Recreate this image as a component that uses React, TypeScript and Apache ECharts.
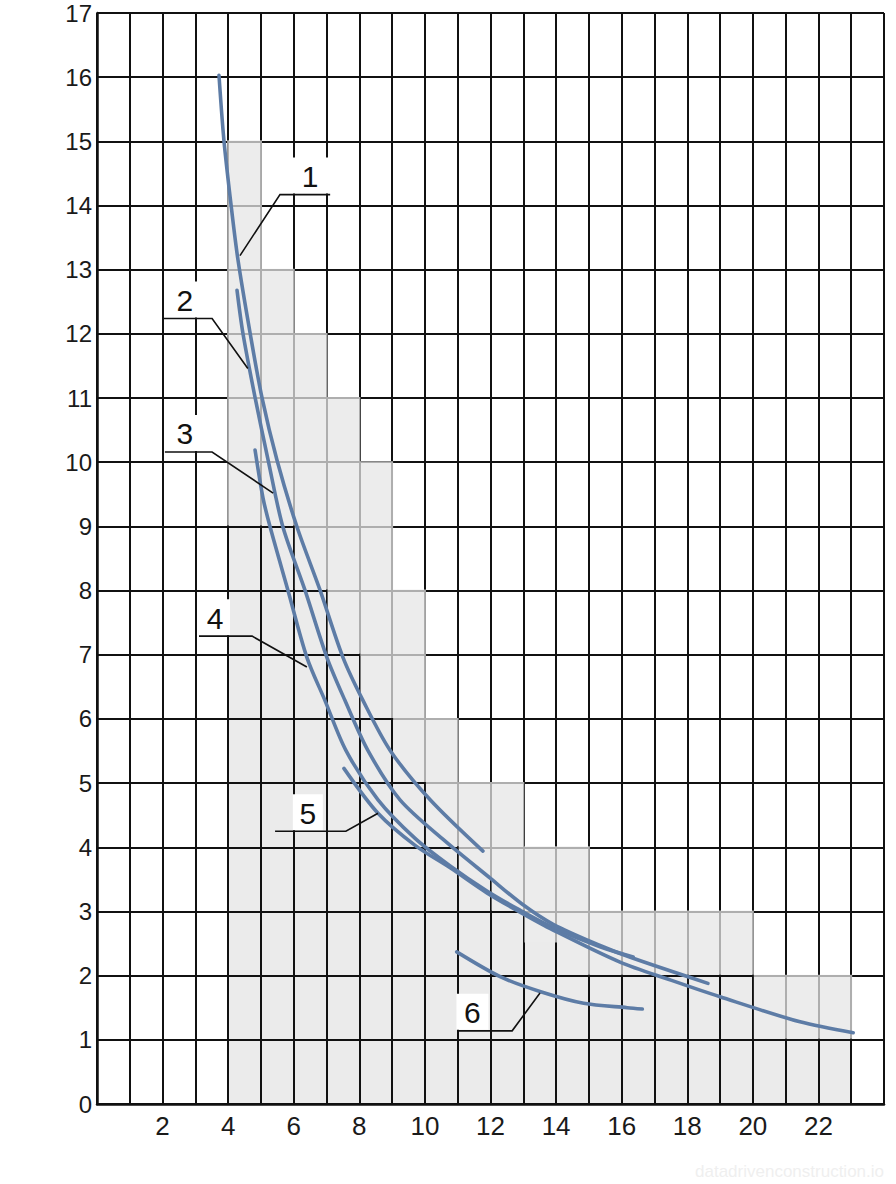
import React, { useEffect, useRef } from "react";
import * as echarts from "echarts";

// ---- data ----
const xTickLabels = [2, 4, 6, 8, 10, 12, 14, 16, 18, 20, 22];
const stepStarts = [4, 5, 6, 7, 8, 9, 10, 11, 12, 13, 14, 15, 16, 17, 18, 19, 20, 21, 22];
const stepHeights = [15, 13, 12, 11, 10, 8, 6, 5, 5, 4, 4, 3, 3, 3, 3, 3, 2, 2, 2];
const paleFloor = [9, 9, 8, 7, 6, 5, 4, 3.5, 3, 2.5, 2, 2, 2, 2, 2, 2, 1, 1, 1];

const curve1 = [
  [3.72, 16.03], [3.87, 15.02], [4.09, 14.0], [4.3, 13.15], [4.67, 12.01], [5.03, 11.01],
  [5.49, 10.03], [6.1, 8.99], [6.8, 8.01], [7.5, 6.96], [8.11, 6.29], [8.94, 5.51],
  [10.16, 4.74], [11.77, 3.94],
];
const curve2 = [
  [4.27, 12.68], [4.45, 12.01], [4.82, 11.01], [5.22, 10.03], [5.67, 8.99], [6.34, 8.01],
  [7.01, 6.96], [7.56, 6.29], [8.26, 5.51], [9.24, 4.74], [10.61, 4.1], [11.99, 3.52],
  [12.95, 3.12], [13.91, 2.8], [15.34, 2.47], [16.35, 2.27], [18.63, 1.88],
];
const curve3 = [
  [4.82, 10.19], [5.06, 9.45], [5.28, 8.99], [5.82, 8.01], [6.4, 6.96], [6.95, 6.29],
  [7.59, 5.51], [8.57, 4.74], [9.7, 4.14], [10.77, 3.71], [11.89, 3.32], [12.9, 3.02],
  [13.91, 2.75], [15.34, 2.45], [16.35, 2.29],
];
const curve5 = [
  [7.53, 5.23], [8.57, 4.53], [9.7, 4.03], [10.77, 3.68], [11.89, 3.29], [12.9, 2.99],
  [13.91, 2.71], [15.95, 2.21], [17.5, 1.93], [19.0, 1.67], [21.44, 1.28], [23.06, 1.11],
];
const curve6 = [
  [10.97, 2.37], [12.31, 1.98], [13.53, 1.75], [14.84, 1.57], [16.17, 1.5], [16.63, 1.48],
];

const curveNames = ["1", "2", "3", "5", "6"];
const curves = [curve1, curve2, curve3, curve5, curve6];

// callout annotations (text x and leader line, in data units)
const callouts = [
  { text: "1", tx: 6.5, boxW: 46, line: [[7.11, 14.17], [5.58, 14.17], [4.36, 13.22]] },
  { text: "2", tx: 2.68, boxW: 34, line: [[2.01, 12.24], [3.51, 12.24], [4.6, 11.46]] },
  { text: "3", tx: 2.68, boxW: 34, line: [[2.07, 10.16], [3.51, 10.16], [5.37, 9.52]] },
  { text: "4", tx: 3.6, boxW: 30, line: [[3.11, 7.29], [4.73, 7.29], [6.4, 6.81]] },
  { text: "5", tx: 6.43, boxW: 30, line: [[5.43, 4.25], [7.59, 4.25], [8.57, 4.53]] },
  { text: "6", tx: 11.45, boxW: 32, line: [[10.98, 1.14], [12.66, 1.14], [13.51, 1.73]] },
];

const FONT = '"Liberation Sans", Arial, Helvetica, sans-serif';
const CURVE_COLOR = "#5d7ca6";

export default function App() {
  const ref = useRef<HTMLDivElement>(null);

  useEffect(() => {
    if (!ref.current) return;
    const chart = echarts.init(ref.current, undefined, { renderer: "svg" });

    const baseData = stepStarts.map((x, i) => [x, stepHeights[i]]);

    const option: any = {
      animation: false,
      backgroundColor: "#ffffff",
      grid: { left: 97, right: 12, top: 13, bottom: 80, containLabel: false },
      xAxis: {
        type: "value",
        min: 0,
        max: 24,
        interval: 1,
        axisLine: { show: true, onZero: false, lineStyle: { color: "#111", width: 2.5 } },
        axisTick: { show: false },
        splitLine: { show: true, lineStyle: { color: "#111", width: 2 } },
        axisLabel: {
          margin: 9,
          color: "#1a1a1a",
          fontSize: 26,
          fontFamily: FONT,
          formatter: (v: number) => (xTickLabels.includes(v) ? String(v) : ""),
        },
      },
      yAxis: {
        type: "value",
        min: 0,
        max: 17,
        interval: 1,
        axisLine: { show: true, onZero: false, lineStyle: { color: "#111", width: 2.5 } },
        axisTick: { show: false },
        splitLine: { show: true, lineStyle: { color: "#111", width: 2 } },
        axisLabel: {
          margin: 5,
          color: "#1a1a1a",
          fontSize: 24,
          lineHeight: 24,
          fontFamily: FONT,
        },
      },
      series: [
        {
          type: "custom",
          name: "steps",
          z: -1,
          silent: true,
          data: baseData,
          renderItem: (params: any, api: any) => {
            const x = api.value(0);
            const h = api.value(1);
            const p0 = api.coord([x, h]);
            const p1 = api.coord([x + 1, 0]);
            return {
              type: "rect",
              shape: { x: p0[0], y: p0[1], width: p1[0] - p0[0], height: p1[1] - p0[1] },
              style: { fill: "#ebebeb" },
            };
          },
        },
        {
          type: "custom",
          name: "pale",
          z: 1,
          silent: true,
          data: [[stepStarts[0], stepHeights[0]]],
          renderItem: (params: any, api: any) => {
            const n = stepStarts.length;
            const pts: number[][] = [];
            for (let i = 0; i < n; i++) {
              const xl = api.coord([stepStarts[i], 0])[0];
              const xr = api.coord([stepStarts[i] + 1, 0])[0];
              const yt = api.coord([0, stepHeights[i]])[1] - 1;
              pts.push([i === 0 ? xl - 1 : xl + 1, yt]);
              pts.push([xr + 1, yt]);
            }
            for (let i = n - 1; i >= 0; i--) {
              const xl = api.coord([stepStarts[i], 0])[0];
              const xr = api.coord([stepStarts[i] + 1, 0])[0];
              const yf = api.coord([0, paleFloor[i]])[1] - 1;
              pts.push([xr + 1, yf]);
              pts.push([i === 0 ? xl - 1 : xl + 1, yf]);
            }
            return {
              type: "polygon",
              shape: { points: pts },
              style: { fill: "rgba(236,236,236,0.72)" },
            };
          },
        },
        ...curves.map((c, i) => ({
          type: "line",
          name: curveNames[i],
          z: 3,
          data: c,
          smooth: 0.3,
          showSymbol: false,
          symbol: "none",
          lineStyle: { color: CURVE_COLOR, width: 3.6, cap: "round" },
        })),
      ],
    };

    chart.setOption(option);

    const toPx = (p: number[]) => chart.convertToPixel({ gridIndex: 0 }, p) as number[];
    const elements: any[] = [];
    callouts.forEach((c, k) => {
      const pts = c.line.map((p) => toPx(p));
      const lineY = pts[0][1];
      const cx = toPx([c.tx, 0])[0];
      elements.push({
        type: "rect",
        id: "box" + k,
        z: 10,
        shape: { x: cx - c.boxW / 2, y: lineY - 37, width: c.boxW, height: 36 },
        style: { fill: "#ffffff" },
      });
      elements.push({
        type: "polyline",
        id: "lead" + k,
        z: 11,
        shape: { points: pts },
        style: { stroke: "#111", lineWidth: 1.6, fill: null },
      });
      elements.push({
        type: "text",
        id: "txt" + k,
        z: 12,
        x: cx,
        y: lineY - 18,
        style: {
          text: c.text,
          font: `30px ${FONT}`,
          fill: "#111",
          align: "center",
          verticalAlign: "middle",
        },
      });
    });
    elements.push({
      type: "text",
      id: "wm",
      z: 12,
      right: 12,
      bottom: 4,
      style: { text: "datadrivenconstruction.io", font: `17px ${FONT}`, fill: "#efefef" },
    });
    chart.setOption({ graphic: { elements } });

    return () => chart.dispose();
  }, []);

  return (
    <div
      ref={ref}
      style={{ position: "fixed", left: 0, top: 0, width: 896, height: 1184, background: "#fff" }}
    />
  );
}
